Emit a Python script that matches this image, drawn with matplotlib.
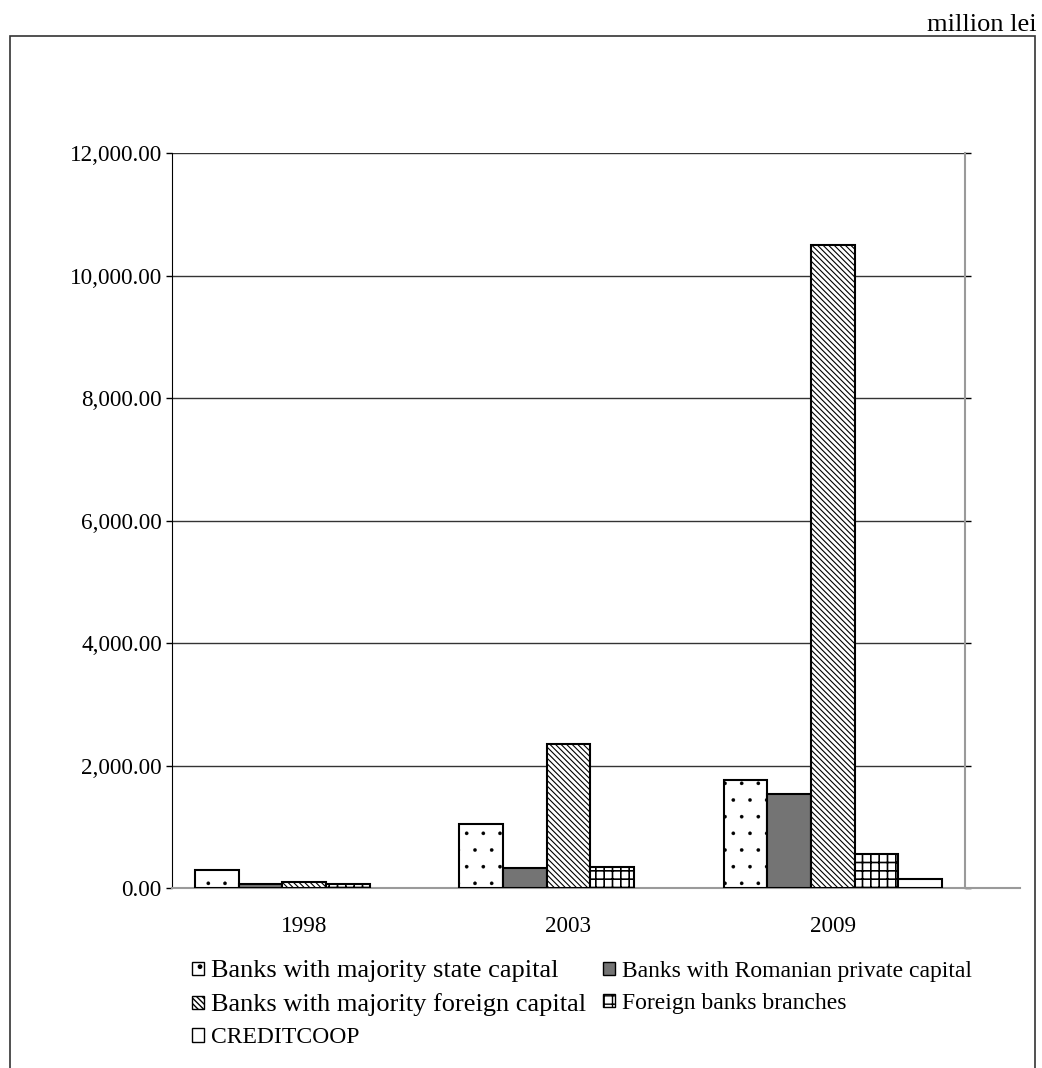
import matplotlib
matplotlib.use("Agg")
import matplotlib.pyplot as plt
import numpy as np
from matplotlib.patches import Patch, Rectangle
from matplotlib.lines import Line2D

plt.rcParams['font.family'] = ['Liberation Serif', 'DejaVu Serif']

years = ["1998", "2003", "2009"]
series_names = [
    "Banks with majority state capital",
    "Banks with Romanian private capital",
    "Banks with majority foreign capital",
    "Foreign banks branches",
    "CREDITCOOP",
]
state_capital = [286, 1037, 1768]
romanian_private = [62, 323, 1539]
foreign_capital = [106, 2356, 10499]
foreign_branches = [62, 351, 559]
creditcoop = [0, 0, 139]
y_ticks = [0, 2000, 4000, 6000, 8000, 10000, 12000]
unit_label = "million lei"

series_values = [state_capital, romanian_private, foreign_capital, foreign_branches, creditcoop]
styles = [
    dict(facecolor="white", hatch="."),
    dict(facecolor="#747474", hatch=None),
    dict(facecolor="white", hatch="\\\\\\\\\\\\"),
    dict(facecolor="white", hatch="++"),
    dict(facecolor="white", hatch=None),
]
hatch_lw = [0.2, 1.0, 0.8, 1.2, 1.0]

W, H = 1042, 1068
fig = plt.figure(figsize=(W / 100, H / 100), dpi=100)
ax = fig.add_axes([172 / W, 1 - 888 / H, (965 - 172) / W, (888 - 153) / H])

x = np.arange(len(years))
bw = 0.165
n = len(series_values)
for i, (vals, st) in enumerate(zip(series_values, styles)):
    plt.rcParams['hatch.linewidth'] = hatch_lw[i]
    v = np.asarray(vals, dtype=float)
    v = np.where(v > 0, v, np.nan)  # zero bars are not drawn
    ax.bar(x + (i - (n - 1) / 2) * bw, v, width=bw, edgecolor="black",
           linewidth=1.5, zorder=3, **st)

ax.set_xlim(-0.5, 2.5)
ax.set_ylim(0, 12000)
ax.set_yticks(y_ticks)
ax.set_yticklabels([f"{v:,.2f}" for v in y_ticks], fontsize=16.7)
ax.set_xticks(x)
ax.set_xticklabels(years, fontsize=16.7)
ax.tick_params(axis="x", length=0, pad=20)
ax.tick_params(axis="y", direction="out", length=4.3, width=1, pad=3,
               right=True, color="black")
ax.yaxis.grid(True, color="#333333", linewidth=1, zorder=0)
ax.set_axisbelow(True)
ax.spines["top"].set_visible(False)
ax.spines["left"].set_color("black")
ax.spines["right"].set_color("#9a9a9a")
ax.spines["right"].set_linewidth(1.5)
ax.spines["bottom"].set_color("#9a9a9a")
ax.spines["bottom"].set_linewidth(1.5)
ax.add_line(Line2D([1.0, (1020 - 172) / (965 - 172)], [0, 0], transform=ax.transAxes,
                   color="#9a9a9a", linewidth=1.5, clip_on=False))

# outer border
fig.patches.append(Rectangle((10 / W, -0.05), (1035 - 10) / W, (1 - 36 / H) + 0.05,
                             transform=fig.transFigure, fill=False,
                             edgecolor="#333333", linewidth=1.2))
fig.text(1037 / W, 1 - 31 / H, unit_label, ha="right", va="baseline", fontsize=19)

handles = []
for st, hl in zip(styles, hatch_lw):
    plt.rcParams['hatch.linewidth'] = hl
    handles.append(Patch(edgecolor="black", linewidth=1, **st))
order = [0, 2, 4, 1, 3]
leg = fig.legend([handles[i] for i in order], [series_names[i] for i in order],
                 ncol=2, loc="upper left", bbox_to_anchor=(192 / W, 1 - 960 / H),
                 frameon=False, fontsize=17, handlelength=0.5, handleheight=0.5,
                 handletextpad=0.3, columnspacing=0.72, labelspacing=0.47,
                 borderpad=0, borderaxespad=0)
big = {"Banks with majority state capital", "Banks with majority foreign capital"}
for t in leg.get_texts():
    if t.get_text() in big:
        t.set_fontsize(19)

fig.savefig("out.png", dpi=100)
